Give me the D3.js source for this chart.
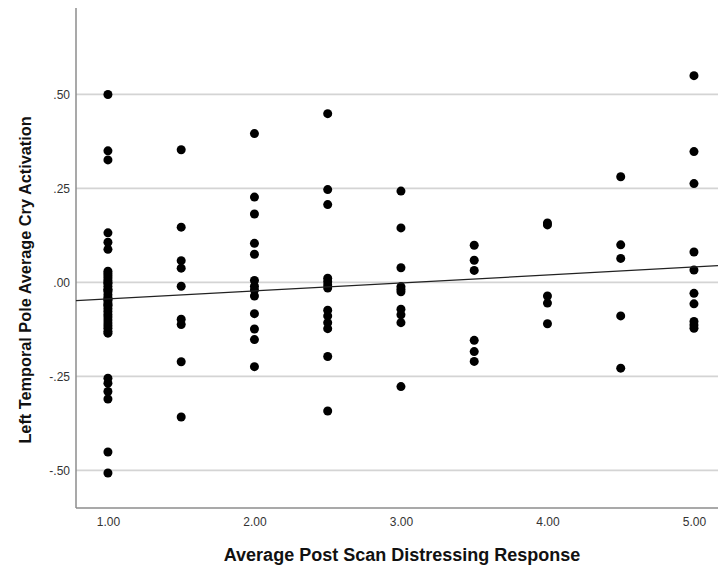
<!DOCTYPE html>
<html>
<head>
<meta charset="utf-8">
<script src="https://cdn.jsdelivr.net/npm/d3@7/dist/d3.min.js"></script>
<style>
  html, body { margin: 0; padding: 0; background: #fff; }
  svg { display: block; font-family: "Liberation Sans", Arial, sans-serif; }
</style>
</head>
<body>
<svg id="chart" width="718" height="569"></svg>
<script>
// Average post-scan distressing response levels (x)
const responseLevels = [1, 1.5, 2, 2.5, 3, 3.5, 4, 4.5, 5];

// Left temporal pole average cry activation, one list per response level
const activationAt1_0 = [
  0.500, 0.350, 0.326, 0.132, 0.107, 0.088,
  0.030, 0.024, 0.018, 0.012, 0.005, 0.000, -0.003, -0.010, -0.018, -0.020, -0.025, -0.033,
  -0.040, -0.045, -0.048, -0.055, -0.060, -0.062, -0.070, -0.077, -0.085, -0.092, -0.100,
  -0.108, -0.115, -0.122, -0.130, -0.135,
  -0.255, -0.268, -0.290, -0.310, -0.451, -0.507
];
const activationAt1_5 = [0.353, 0.147, 0.058, 0.038, -0.010, -0.098, -0.112, -0.211, -0.358];
const activationAt2_0 = [0.396, 0.227, 0.182, 0.104, 0.075, 0.005, -0.010, -0.020, -0.036, -0.083, -0.124, -0.152, -0.224];
const activationAt2_5 = [0.449, 0.247, 0.207, 0.011, 0.002, -0.007, -0.015, -0.074, -0.089, -0.107, -0.123, -0.197, -0.342];
const activationAt3_0 = [0.243, 0.145, 0.039, -0.011, -0.018, -0.025, -0.071, -0.086, -0.107, -0.277];
const activationAt3_5 = [0.099, 0.059, 0.032, -0.154, -0.184, -0.210];
const activationAt4_0 = [0.158, 0.153, -0.036, -0.055, -0.110];
const activationAt4_5 = [0.281, 0.100, 0.064, -0.089, -0.228];
const activationAt5_0 = [0.550, 0.348, 0.263, 0.081, 0.033, -0.029, -0.057, -0.104, -0.113, -0.122];

const activationByLevel = [
  activationAt1_0, activationAt1_5, activationAt2_0, activationAt2_5, activationAt3_0,
  activationAt3_5, activationAt4_0, activationAt4_5, activationAt5_0
];

const xTicks = [1, 2, 3, 4, 5];
const yTicks = [-0.5, -0.25, 0, 0.25, 0.5];

// Linear fit line: y = fitIntercept + fitSlope * x
const fitIntercept = -0.065;
const fitSlope = 0.0212;

const xTitle = "Average Post Scan Distressing Response";
const yTitle = "Left Temporal Pole Average Cry Activation";

// flatten to [x, y] pairs
const points = responseLevels.flatMap((lvl, i) => activationByLevel[i].map(v => [lvl, v]));

const svg = d3.select("#chart");
const plotLeft = 76, plotRight = 718, plotTop = 8, plotBottom = 508;

const x = d3.scaleLinear().domain([0.782, 5.164]).range([plotLeft, plotRight]);
const y = d3.scaleLinear().domain([-0.6, 0.73]).range([plotBottom, plotTop]);

const fmtY = v => {
  const s = d3.format(".2f")(Math.abs(v)).replace(/^0/, "");
  return (v < 0 ? "-" : "") + s;
};

// horizontal gridlines
svg.append("g")
  .selectAll("line")
  .data(yTicks)
  .join("line")
  .attr("x1", plotLeft).attr("x2", plotRight)
  .attr("y1", d => y(d)).attr("y2", d => y(d))
  .attr("stroke", "#d4d4d4")
  .attr("stroke-width", 1.8);

// y axis
const yAxis = svg.append("g")
  .attr("transform", `translate(${plotLeft},0)`)
  .call(d3.axisLeft(y).tickValues(yTicks).tickFormat(fmtY).tickSize(0).tickPadding(6));
yAxis.select(".domain").remove();
yAxis.selectAll("text")
  .attr("font-size", 12)
  .attr("font-family", "'Liberation Sans', Arial, sans-serif")
  .attr("fill", "#333");

// x axis
const xAxis = svg.append("g")
  .attr("transform", `translate(0,${plotBottom})`)
  .call(d3.axisBottom(x).tickValues(xTicks).tickFormat(d3.format(".2f")).tickSize(0).tickPadding(9));
xAxis.select(".domain").remove();
xAxis.selectAll("text")
  .attr("font-size", 12)
  .attr("font-family", "'Liberation Sans', Arial, sans-serif")
  .attr("fill", "#333");

// axis lines
svg.append("line")
  .attr("x1", plotLeft).attr("x2", plotLeft)
  .attr("y1", plotTop).attr("y2", plotBottom)
  .attr("stroke", "#8c8c8c").attr("stroke-width", 1.5);
svg.append("line")
  .attr("x1", plotLeft).attr("x2", plotRight)
  .attr("y1", plotBottom).attr("y2", plotBottom)
  .attr("stroke", "#8c8c8c").attr("stroke-width", 1.5);

// points
svg.append("g")
  .selectAll("circle")
  .data(points)
  .join("circle")
  .attr("cx", d => x(d[0]))
  .attr("cy", d => y(d[1]))
  .attr("r", 4.5)
  .attr("fill", "#000");

// fit line across the plot
const [x0, x1] = x.domain();
svg.append("line")
  .attr("x1", x(x0)).attr("y1", y(fitIntercept + fitSlope * x0))
  .attr("x2", x(x1)).attr("y2", y(fitIntercept + fitSlope * x1))
  .attr("stroke", "#222").attr("stroke-width", 1.2);

// axis titles
svg.append("text")
  .attr("x", 402).attr("y", 561)
  .attr("text-anchor", "middle")
  .attr("font-size", 18).attr("font-weight", "bold")
  .attr("fill", "#111")
  .text(xTitle);

svg.append("text")
  .attr("transform", "translate(31,280) rotate(-90)")
  .attr("text-anchor", "middle")
  .attr("font-size", 16.3).attr("font-weight", "bold")
  .attr("fill", "#111")
  .text(yTitle);
</script>
</body>
</html>
